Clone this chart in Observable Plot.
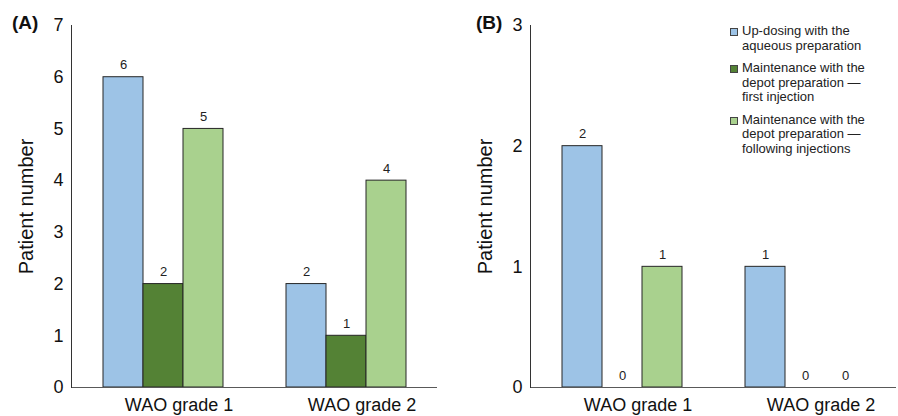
<!DOCTYPE html>
<html><head><meta charset="utf-8">
<script src="https://cdn.jsdelivr.net/npm/d3@7"></script>
<script src="https://cdn.jsdelivr.net/npm/@observablehq/plot@0.6"></script>
<style>
body{margin:0;background:#fff;font-family:"Liberation Sans",Arial,sans-serif;}
#wrap{position:relative;width:898px;height:416px;}
#wrap svg{position:absolute;top:0;overflow:visible;}
.panel{position:absolute;font-weight:bold;font-size:19px;line-height:1;color:#111;}
#legend{position:absolute;left:730px;top:24px;font-size:13px;line-height:14.5px;color:#222;}
.item{display:flex;margin-bottom:8px;}
.sw{width:6px;height:6px;border:1px solid #444;margin-top:4px;margin-right:4px;flex:none;}
</style></head>
<body>
<div id="wrap"></div>
<script>
const groups = ["WAO grade 1", "WAO grade 2"];
const seriesNames = [
  "Up-dosing with the aqueous preparation",
  "Maintenance with the depot preparation — first injection",
  "Maintenance with the depot preparation — following injections"
];
const legendLines = [
  ["Up-dosing with the", "aqueous preparation"],
  ["Maintenance with the", "depot preparation —", "first injection"],
  ["Maintenance with the", "depot preparation —", "following injections"]
];
const colors = ["#9dc3e6", "#548235", "#a9d18e"];
const panelA_upDosing = [6, 2];
const panelA_depotFirst = [2, 1];
const panelA_depotFollowing = [5, 4];
const panelB_upDosing = [2, 1];
const panelB_depotFirst = [0, 0];
const panelB_depotFollowing = [1, 0];
const yTicksA = [0, 1, 2, 3, 4, 5, 6, 7];
const yTicksB = [0, 1, 2, 3];
const yLabel = "Patient number";

function table(seriesValues) {
  const rows = [];
  groups.forEach((g, gi) => seriesNames.forEach((s, si) => rows.push({grade: g, series: s, value: seriesValues[si][gi]})));
  return rows;
}
const dataA = table([panelA_upDosing, panelA_depotFirst, panelA_depotFollowing]);
const dataB = table([panelB_upDosing, panelB_depotFirst, panelB_depotFollowing]);

function chart(data, ticks, ml, mr) {
  return Plot.plot({
    width: 449, height: 416,
    marginLeft: ml, marginRight: mr, marginTop: 25, marginBottom: 29,
    style: {fontFamily: "Liberation Sans, Arial, sans-serif", background: "transparent", overflow: "visible", color: "#111"},
    fx: {domain: groups, padding: 0},
    x: {domain: seriesNames, paddingInner: 0, paddingOuter: 0.75, axis: null},
    y: {domain: [0, ticks[ticks.length - 1]]},
    color: {domain: seriesNames, range: colors},
    marks: [
      Plot.barY(data.filter(d => d.value > 0), {fx: "grade", x: "series", y: "value", fill: "series", stroke: "#262626", strokeWidth: 1}),
      Plot.text(data, {fx: "grade", x: "series", y: "value", text: d => String(d.value), dy: -12, lineAnchor: "middle", fontSize: 13, fill: "#222"}),
      Plot.ruleY([0], {stroke: "#595959", strokeWidth: 1.2}),
      Plot.frame({anchor: "left", facetAnchor: "left", stroke: "#333"}),
      Plot.axisY({ticks, tickSize: 0, tickPadding: 8, fontSize: 18, label: null, tickFormat: d => String(d)}),
      Plot.text([yLabel], {frameAnchor: "left", rotate: -90, dx: -45, textAnchor: "middle", lineAnchor: "middle", fontSize: 20, facetAnchor: "left", fill: "#111"}),
      Plot.axisFx({anchor: "bottom", tickSize: 0, tickPadding: 11, fontSize: 18, label: null, dx: 16})
    ]
  });
}

const wrap = document.getElementById("wrap");
const a = chart(dataA, yTicksA, 70, 12);
a.style.left = "0px";
const b = chart(dataB, yTicksB, 80, 2);
b.style.left = "449px";
wrap.appendChild(a);
wrap.appendChild(b);

for (const [t, x] of [["(A)", 12], ["(B)", 476]]) {
  const d = document.createElement("div");
  d.className = "panel";
  d.textContent = t;
  d.style.left = x + "px";
  d.style.top = "13px";
  wrap.appendChild(d);
}
const leg = document.createElement("div");
leg.id = "legend";
legendLines.forEach((lines, i) => {
  const it = document.createElement("div");
  it.className = "item";
  const sw = document.createElement("div");
  sw.className = "sw";
  sw.style.background = colors[i];
  const tx = document.createElement("div");
  tx.innerHTML = lines.join("<br>");
  it.appendChild(sw);
  it.appendChild(tx);
  leg.appendChild(it);
});
wrap.appendChild(leg);
</script>
</body></html>
